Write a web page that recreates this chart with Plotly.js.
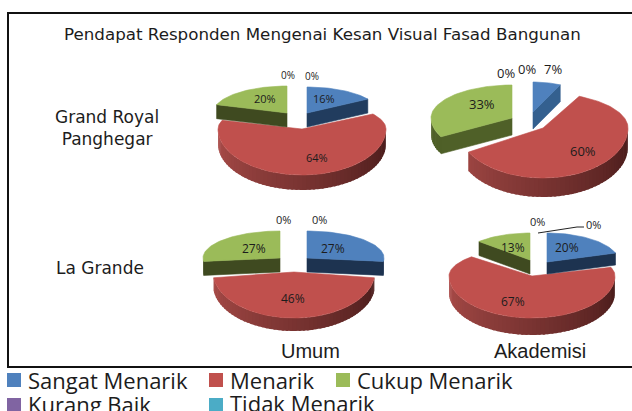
<!DOCTYPE html>
<html><head><meta charset="utf-8">
<script src="https://cdn.plot.ly/plotly-3.0.1.min.js"></script>
<style>html,body{margin:0;padding:0;background:#fff;overflow:hidden}</style></head>
<body><div id="chart" style="width:632px;height:411px"></div>
<script>
// ---------- data ----------
const categories = ["Sangat Menarik","Menarik","Cukup Menarik","Kurang Baik","Tidak Menarik"];
const grandRoyalUmum = [16,64,20,0,0];
const grandRoyalAkademisi = [7,60,33,0,0];
const laGrandeUmum = [27,46,27,0,0];
const laGrandeAkademisi = [20,67,13,0,0];
const chartTitle = "Pendapat Responden Mengenai Kesan Visual Fasad Bangunan";
const columnLabels = ["Umum","Akademisi"];
const rowLabels = ["Grand Royal<br>Panghegar","La Grande"];

// ---------- colours ----------
const faceColors = ["#4f81bd","#c0504d","#9bbb59","#8064a2","#4bacc6"];

// ---------- layout of each pie: exploded slice geometry (blue, red, green) ----------
const pies = [
 {values:grandRoyalUmum, slices:[
   {cx:307,cy:113,rx:72,ryB:26,ryF:26,d:14,wall:"#213c5e"},
   {cx:302,cy:129,rx:84,ryB:28,ryF:46,d:15,wall:"#7a3433"},
   {cx:287,cy:113,rx:74,ryB:27,ryF:27,d:14,wall:"#3f4a20"}],
  labels:[[324,98,11],[317,157,11],[265,98,11]], zeros:[[288,75,10],[312,76,10]]},
 {values:grandRoyalAkademisi, slices:[
   {cx:533,cy:112,rx:64,ryB:30,ryF:30,d:17,wall:"#34608f"},
   {cx:543,cy:128,rx:85,ryB:35,ryF:50,d:19,wall:"#7a3433"},
   {cx:512,cy:118,rx:81,ryB:33,ryF:39,d:17,wall:"#4f6028"}],
  labels:[[553,69,13],[583,151,13],[482,104,13]], zeros:[[506,73,13],[527,69,13]]},
 {values:laGrandeUmum, slices:[
   {cx:307,cy:258,rx:77,ryB:27,ryF:27,d:14,wall:"#1d3350"},
   {cx:294,cy:272,rx:81,ryB:28,ryF:46,d:13,wall:"#7a3433"},
   {cx:280,cy:258,rx:77,ryB:27,ryF:27,d:14,wall:"#3f4a20"}],
  labels:[[333,248,12],[293,298,12],[254,248,12]], zeros:[[283,219,11],[319,219,11]]},
 {values:laGrandeAkademisi, slices:[
   {cx:547,cy:262,rx:72,ryB:29,ryF:29,d:12,wall:"#1d3350"},
   {cx:532,cy:276,rx:83,ryB:28,ryF:42,d:17,wall:"#7a3433"},
   {cx:530,cy:260,rx:70,ryB:27,ryF:27,d:14,wall:"#3f4a20"}],
  labels:[[567,247,12],[513,301,12],[513,247,12]], zeros:[[537,221,11],[593,224,11]]}
];
const leaderXs = [538,577,584];
const leaderYs = [233,227,227];

// ---------- drawing ----------
const rad = a => a*Math.PI/180;
function rim(s,a,drop){
  const c = Math.cos(rad(a));
  return [s.cx + s.rx*Math.sin(rad(a)), s.cy - (c>=0?s.ryB:s.ryF)*c + (drop||0)];
}
function poly(pts,fill,lw){
  const x = pts.map(p=>p[0]).concat(pts[0][0]);
  const y = pts.map(p=>p[1]).concat(pts[0][1]);
  return {type:"scatter",mode:"lines",x,y,fill:"toself",fillcolor:fill,
    line:{color:fill,width:lw===undefined?0.6:lw},hoverinfo:"skip",showlegend:false};
}
function mix(a,b,t){
  const h=c=>[1,3,5].map(i=>parseInt(c.substr(i,2),16));
  const A=h(a),B=h(b);
  return "rgb("+A.map((v,i)=>Math.round(v+(B[i]-v)*t)).join(",")+")";
}
function sliceTraces(s,from,to,color){
  const out=[];
  const step=3;
  // outer wall (only the front half shows); each band overlaps the next
  const a0=Math.max(from,90), a1=Math.min(to,270);
  for(let a=a0;a<a1;a+=step){
    const b=Math.min(a+step+1.5,a1);
    const t=(270-(a+step/2))/180;
    const col = s.wall==="#7a3433" ? mix("#ad4d4a","#451a19",t) : s.wall;
    out.push(poly([rim(s,a),rim(s,b),rim(s,b,s.d),rim(s,a,s.d)],col,0));
  }
  // radial cut walls
  const apex=[s.cx,s.cy], apexLow=[s.cx,s.cy+s.d];
  if(Math.sin(rad(to))>0.001) out.push(poly([apex,rim(s,to),rim(s,to,s.d),apexLow],s.wall));
  if(Math.sin(rad(from))<-0.001) out.push(poly([apex,rim(s,from),rim(s,from,s.d),apexLow],s.wall));
  // top face
  const pts=[apex];
  for(let a=from;a<to;a+=2) pts.push(rim(s,a));
  pts.push(rim(s,to));
  out.push(poly(pts,color));
  return out;
}

const traces=[], annotations=[];
const labelFont="Open Sans, sans-serif", bodyFont="DejaVu Sans, sans-serif", axisFont="Liberation Sans, sans-serif";
function text(x,y,t,size,family,anchor){
  annotations.push({x,y,xref:"x",yref:"y",text:t,showarrow:false,xanchor:anchor||"center",yanchor:"middle",
    font:{size,family:family||labelFont,color:"#1c1c1c"},borderpad:0});
}
pies.forEach(p=>{
  const total=p.values.reduce((a,b)=>a+b,0);
  const spans=[];let acc=0;
  p.values.forEach((v,i)=>{spans.push([acc/total*360,(acc+v)/total*360]);acc+=v;});
  [1,0,2].forEach(i=>{traces.push(...sliceTraces(p.slices[i],spans[i][0],spans[i][1],faceColors[i]));});
  p.labels.forEach((l,i)=>text(l[0],l[1],p.values[i]+"%",l[2]));
  p.zeros.forEach((l,i)=>text(l[0],l[1],p.values[3+i]+"%",l[2]));
});
traces.push({type:"scatter",mode:"lines",x:leaderXs,y:leaderYs,line:{color:"#222",width:1},hoverinfo:"skip",showlegend:false});

// legend
const legendSwatchX=[14,216,343,14,216], legendSwatchY=[380,380,380,405,405];
const legendTextX=[27,229,356,27,229], legendTextY=[380,380,380,404,403];
traces.push({type:"scatter",mode:"markers",x:legendSwatchX,y:legendSwatchY,
  marker:{symbol:"square",size:14,color:faceColors},hoverinfo:"skip",showlegend:false});
categories.forEach((c,i)=>text(legendTextX[i],legendTextY[i],c,22,labelFont,"left"));

text(322.5,34,chartTitle,16.7,bodyFont);
text(107,128,rowLabels[0],17,bodyFont);
text(100,268,rowLabels[1],17,bodyFont);
text(310.5,351,columnLabels[0],20,axisFont);
text(540,351,columnLabels[1],20,axisFont);

const layout={
  width:632,height:411,margin:{l:0,r:0,t:0,b:0},paper_bgcolor:"#fff",plot_bgcolor:"#fff",
  xaxis:{range:[0,632],visible:false,fixedrange:true},
  yaxis:{range:[411,0],visible:false,fixedrange:true},
  showlegend:false,annotations,
  shapes:[{type:"rect",xref:"x",yref:"y",x0:8,y0:13,x1:640,y1:367,line:{color:"#111",width:2},layer:"below"}]
};
Plotly.newPlot("chart",traces,layout,{displayModeBar:false,staticPlot:true});
</script></body></html>
